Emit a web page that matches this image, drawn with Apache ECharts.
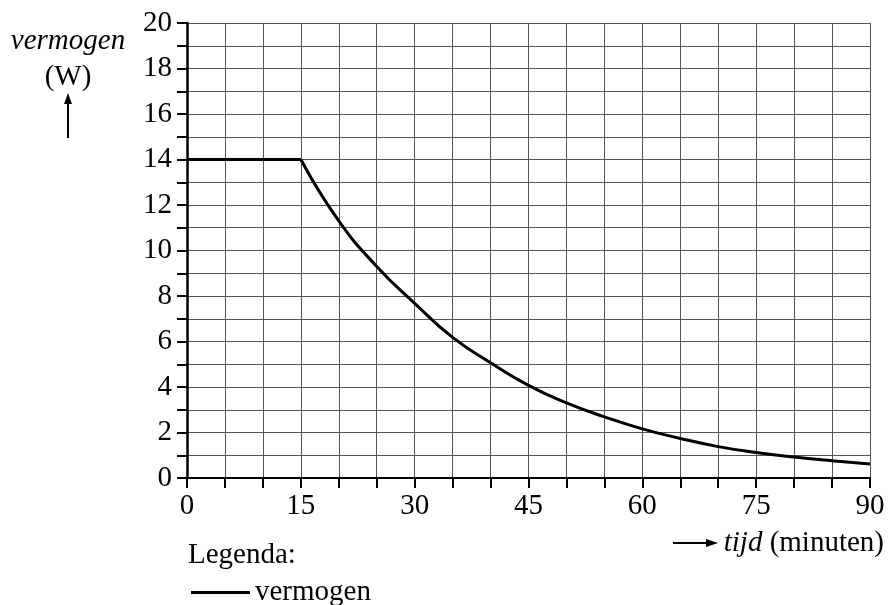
<!DOCTYPE html>
<html>
<head>
<meta charset="utf-8">
<script src="https://cdn.jsdelivr.net/npm/echarts@6/dist/echarts.min.js"></script>
<style>html,body{margin:0;padding:0;background:#fff}#c{width:889px;height:605px}</style>
</head>
<body>
<div id="c"></div>
<script>
var plateauTime = [0, 15];
var plateauPower = [14, 14];
var curveTime = [15, 20, 25, 30, 35, 40, 45, 50, 55, 60, 65, 70, 75, 80, 85, 90];
var curvePower = [14, 11.3, 9.3, 7.68, 6.18, 5.07, 4.07, 3.3, 2.69, 2.16, 1.74, 1.38, 1.12, 0.92, 0.76, 0.62];
var xTickLabels = [0, 15, 30, 45, 60, 75, 90];
var yTickLabels = [0, 2, 4, 6, 8, 10, 12, 14, 16, 18, 20];

var FONT = '"Liberation Serif","DejaVu Serif",serif';
var FS = 29;
var chart = echarts.init(document.getElementById('c'));
function pairs(a, b) { return a.map(function (v, i) { return [v, b[i]]; }); }

chart.setOption({
  animation: false,
  backgroundColor: '#fff',
  grid: { left: 187, right: 19, top: 23, bottom: 127, containLabel: false },
  xAxis: {
    type: 'value', min: 0, max: 90, interval: 5,
    axisLine: { show: true, onZero: false, lineStyle: { color: '#000', width: 2 } },
    axisTick: { show: true, length: 10, lineStyle: { color: '#000', width: 2 } },
    axisLabel: {
      margin: 14, fontFamily: FONT, fontSize: FS, color: '#000',
      formatter: function (v) { return xTickLabels.indexOf(v) >= 0 ? String(v) : ''; }
    },
    splitLine: { show: true, lineStyle: { color: '#555', width: 1 } }
  },
  yAxis: {
    type: 'value', min: 0, max: 20, interval: 1,
    axisLine: { show: true, lineStyle: { color: '#000', width: 2.5 } },
    axisTick: { show: true, length: 10, lineStyle: { color: '#000', width: 2 } },
    axisLabel: {
      margin: 15, fontFamily: FONT, fontSize: FS, color: '#000',
      formatter: function (v) { return yTickLabels.indexOf(v) >= 0 ? String(v) : ''; }
    },
    splitLine: { show: true, lineStyle: { color: '#555', width: 1 } }
  },
  legend: {
    left: 186, top: 573, itemWidth: 59, itemHeight: 3, icon: 'rect',
    textStyle: { fontFamily: FONT, fontSize: FS, color: '#000' },
    data: [{ name: 'vermogen', itemStyle: { color: '#000' } }]
  },
  series: [
    {
      name: 'vermogen', type: 'line', data: pairs(plateauTime, plateauPower),
      showSymbol: false, symbol: 'none', lineStyle: { color: '#000', width: 3 }, itemStyle: { color: '#000' }
    },
    {
      name: 'vermogen', type: 'line', data: pairs(curveTime, curvePower), smooth: 0.5,
      showSymbol: false, symbol: 'none', lineStyle: { color: '#000', width: 3 }, itemStyle: { color: '#000' }
    }
  ],
  graphic: [
    { type: 'text', style: { x: 68, y: 41, text: 'vermogen', align: 'center', verticalAlign: 'middle', fontFamily: FONT, fontSize: FS, fontStyle: 'italic', fill: '#000' } },
    { type: 'text', style: { x: 68, y: 77, text: '(W)', align: 'center', verticalAlign: 'middle', fontFamily: FONT, fontSize: FS, fill: '#000' } },
    { type: 'line', shape: { x1: 68, y1: 102, x2: 68, y2: 138 }, style: { stroke: '#000', lineWidth: 2 } },
    { type: 'polygon', shape: { points: [[68, 93], [64, 104], [72, 104]] }, style: { fill: '#000' } },
    { type: 'line', shape: { x1: 673, y1: 543, x2: 708, y2: 543 }, style: { stroke: '#000', lineWidth: 2 } },
    { type: 'polygon', shape: { points: [[718, 543], [706, 539], [706, 547]] }, style: { fill: '#000' } },
    { type: 'text', style: { x: 884, y: 543, align: 'right', verticalAlign: 'middle',
        text: '{i|tijd} {n|(minuten)}',
        rich: { i: { fontFamily: FONT, fontSize: FS, fontStyle: 'italic', fill: '#000' }, n: { fontFamily: FONT, fontSize: FS, fill: '#000' } },
        fontFamily: FONT, fontSize: FS, fill: '#000' } },
    { type: 'text', style: { x: 188, y: 555, text: 'Legenda:', align: 'left', verticalAlign: 'middle', fontFamily: FONT, fontSize: FS, fill: '#000' } }
  ]
});
</script>
</body>
</html>
